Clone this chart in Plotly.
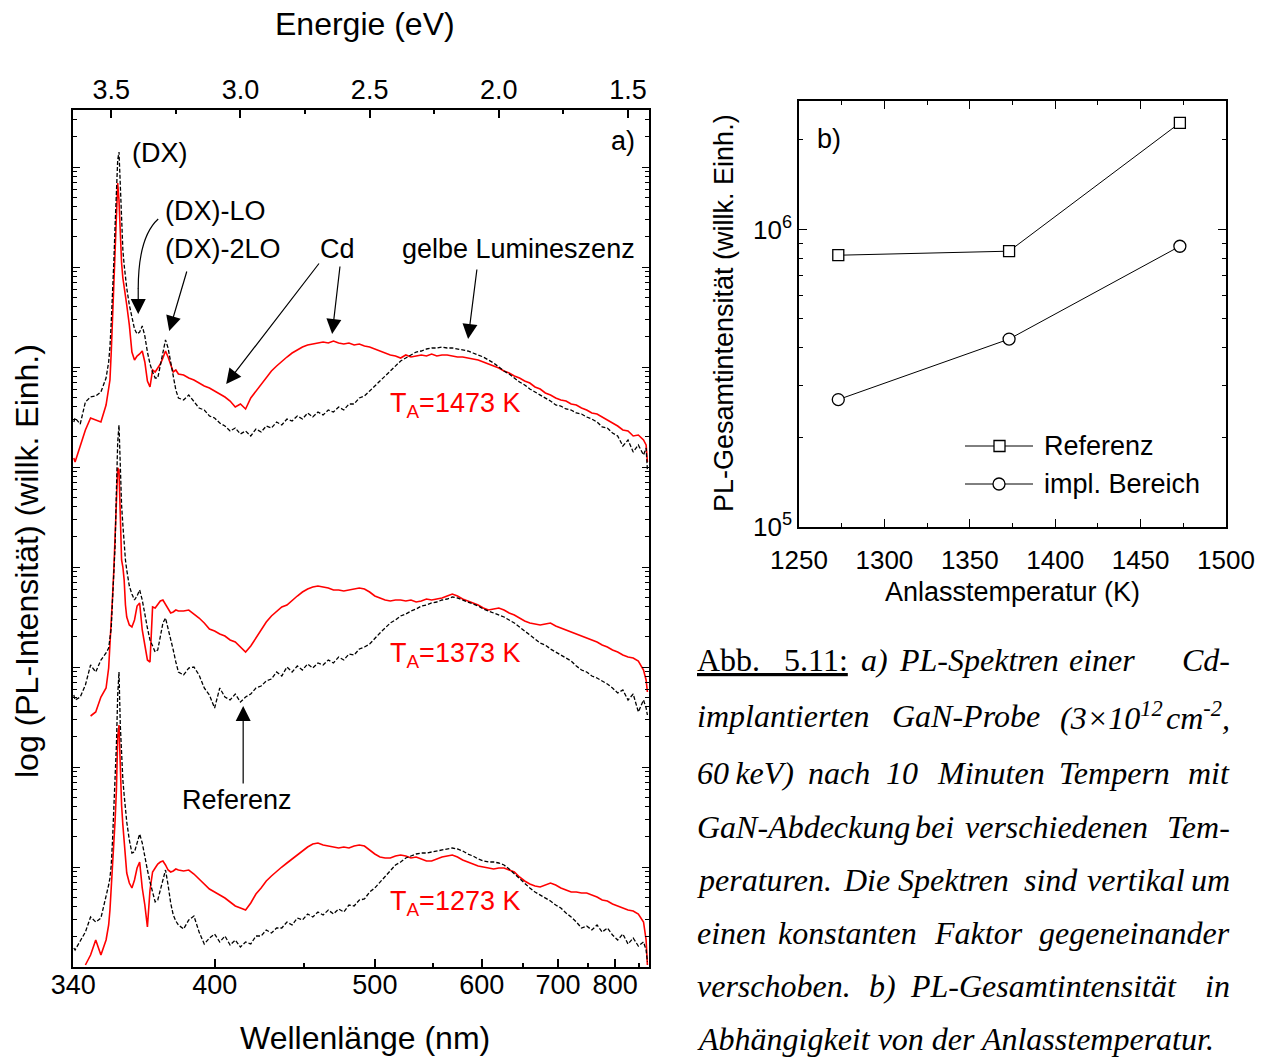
import plotly.graph_objects as go
import math

W, H = 1267, 1059
def fx(p): return p / W
def fy(p): return 1 - p / H

# ---------------- data: panel a) PL spectra (log10 intensity, arb. offset) ----------------
energy_eV = [3.645, 3.64, 3.62, 3.60, 3.58, 3.56, 3.54, 3.52,
             3.51, 3.505, 3.50, 3.495, 3.49, 3.485, 3.48, 3.475, 3.47, 3.465, 3.46, 3.455, 3.45, 3.445, 3.44,
             3.43, 3.42, 3.41, 3.40, 3.39, 3.38, 3.37, 3.36, 3.35, 3.34, 3.33, 3.32, 3.31, 3.30, 3.29, 3.28, 3.27, 3.26, 3.25,
             3.24, 3.22, 3.20, 3.18, 3.16, 3.14, 3.12, 3.10, 3.08, 3.06,
             3.04, 3.02, 3.00, 2.98, 2.96, 2.94, 2.92, 2.90, 2.88, 2.86,
             2.84, 2.82, 2.80, 2.78, 2.76, 2.74, 2.72, 2.70, 2.68, 2.66,
             2.64, 2.62, 2.60, 2.58, 2.56, 2.54, 2.52, 2.50, 2.48, 2.46,
             2.44, 2.42, 2.40, 2.38, 2.36, 2.34, 2.32, 2.30, 2.28, 2.26,
             2.24, 2.22, 2.20, 2.18, 2.16, 2.14, 2.12, 2.10, 2.08, 2.06,
             2.04, 2.02, 2.00, 1.98, 1.96, 1.94, 1.92, 1.90, 1.88, 1.86,
             1.84, 1.82, 1.80, 1.78, 1.76, 1.74, 1.72, 1.70, 1.68, 1.66,
             1.64, 1.62, 1.60, 1.58, 1.56, 1.54, 1.52, 1.50, 1.48, 1.46, 1.44,
             1.43, 1.425]

impl_1473 = [5.09, 5.05, 5.21, 5.37, 5.49, 5.47, 5.45, 5.62,
             5.77, 5.87, 6.15, 6.49, 6.87, 7.25, 7.67, 7.84, 7.67, 7.32, 7.04, 6.89, 6.82, 6.71, 6.62,
             6.42, 6.15, 6.07, 6.11, 6.13, 6.16, 6.05, 5.86, 5.80, 5.97, 5.95, 5.99, 6.03, 6.09, 6.16, 6.10, 6.02, 5.95, 5.97,
             5.93, 5.92, 5.89, 5.87, 5.84, 5.81, 5.79, 5.76, 5.73, 5.70,
             5.66, 5.60, 5.63, 5.58, 5.69, 5.76, 5.82, 5.89, 5.96, 6.01,
             6.06, 6.10, 6.14, 6.17, 6.20, 6.22, 6.23, 6.24, 6.25, 6.24,
             6.26, 6.24, 6.23, 6.24, 6.22, 6.23, 6.21, 6.20, 6.18, 6.16,
             6.14, 6.12, 6.11, 6.09, 6.12, 6.10, 6.11, 6.12, 6.11, 6.13,
             6.11, 6.12, 6.12, 6.11, 6.10, 6.10, 6.09, 6.08, 6.07, 6.05,
             6.03, 6.01, 5.99, 5.96, 5.94, 5.91, 5.89, 5.86, 5.84, 5.80,
             5.78, 5.74, 5.72, 5.69, 5.67, 5.66, 5.63, 5.62, 5.59, 5.57,
             5.54, 5.53, 5.50, 5.47, 5.44, 5.41, 5.37, 5.36, 5.31, 5.32, 5.27,
             5.22, 5.05]
ref_1473 = [5.45, 5.49, 5.43, 5.65, 5.70, 5.71, 5.75, 5.89,
            6.05, 6.20, 6.45, 6.72, 7.05, 7.42, 7.84, 8.07, 8.15, 7.82, 7.45, 7.17, 7.02, 6.90, 6.79,
            6.62, 6.49, 6.38, 6.33, 6.35, 6.41, 6.31, 6.15, 6.03, 5.95, 5.89, 5.89, 6.01, 6.15, 6.27, 6.19, 6.05, 5.90, 5.77,
            5.69, 5.67, 5.72, 5.65, 5.59, 5.57, 5.51, 5.49, 5.44, 5.41,
            5.36, 5.39, 5.33, 5.36, 5.31, 5.38, 5.35, 5.41, 5.39, 5.45,
            5.42, 5.48, 5.46, 5.51, 5.48, 5.54, 5.50, 5.55, 5.52, 5.57,
            5.55, 5.60, 5.57, 5.63, 5.63, 5.69, 5.71, 5.76, 5.81, 5.86,
            5.91, 5.97, 6.01, 6.06, 6.09, 6.12, 6.15, 6.16, 6.18, 6.19,
            6.19, 6.20, 6.19, 6.19, 6.18, 6.17, 6.16, 6.14, 6.12, 6.10,
            6.07, 6.04, 6.00, 5.96, 5.93, 5.89, 5.85, 5.82, 5.78, 5.75,
            5.72, 5.69, 5.66, 5.62, 5.61, 5.58, 5.57, 5.54, 5.53, 5.50,
            5.48, 5.45, 5.40, 5.39, 5.34, 5.31, 5.21, 5.27, 5.15, 5.22, 5.12,
            5.19, 4.97]

impl_1373 = [None, None, None, None, 2.51, 2.55, 2.70, 2.79,
             2.99, 3.19, 3.42, 3.70, 3.97, 4.32, 4.67, 4.99, 4.97, 4.47, 4.07, 4.00, 3.87, 3.62, 3.50,
             3.42, 3.40, 3.47, 3.61, 3.64, 3.37, 3.22, 3.07, 3.05, 3.60, 3.59, 3.62, 3.66, 3.67, 3.63, 3.58, 3.54, 3.55, 3.57,
             3.56, 3.56, 3.57, 3.53, 3.49, 3.44, 3.38, 3.36, 3.33, 3.31,
             3.27, 3.25, 3.20, 3.15, 3.21, 3.29, 3.37, 3.45, 3.51, 3.56,
             3.60, 3.62, 3.67, 3.71, 3.75, 3.78, 3.80, 3.81, 3.80, 3.79,
             3.77, 3.77, 3.76, 3.77, 3.78, 3.79, 3.78, 3.75, 3.71, 3.69,
             3.67, 3.66, 3.67, 3.67, 3.66, 3.67, 3.65, 3.66, 3.68, 3.67,
             3.68, 3.69, 3.71, 3.73, 3.71, 3.68, 3.66, 3.64, 3.62, 3.59,
             3.57, 3.58, 3.59, 3.57, 3.54, 3.52, 3.49, 3.46, 3.44, 3.43,
             3.42, 3.43, 3.44, 3.41, 3.39, 3.37, 3.35, 3.33, 3.31, 3.29,
             3.27, 3.25, 3.22, 3.20, 3.17, 3.15, 3.12, 3.10, 3.09, 3.06, 2.97,
             2.87, 2.75]
ref_1373 = [2.72, 2.67, 2.70, 2.82, 3.02, 2.95, 3.07, 3.14,
            3.19, 3.27, 3.39, 3.67, 3.94, 4.22, 4.77, 5.25, 5.42, 4.97, 4.62, 4.42, 4.22, 4.07, 3.97,
            3.81, 3.73, 3.67, 3.71, 3.77, 3.67, 3.52, 3.39, 3.27, 3.20, 3.15, 3.17, 3.29, 3.44, 3.49, 3.39, 3.27, 3.17, 3.05,
            2.95, 2.92, 2.99, 3.00, 2.92, 2.79, 2.72, 2.59, 2.79, 2.70,
            2.67, 2.73, 2.65, 2.70, 2.73, 2.79, 2.81, 2.86, 2.88, 2.95,
            2.91, 3.00, 2.95, 3.01, 2.97, 3.03, 2.99, 3.04, 3.02, 3.07,
            3.04, 3.10, 3.07, 3.13, 3.12, 3.18, 3.20, 3.23, 3.29, 3.34,
            3.39, 3.44, 3.47, 3.51, 3.53, 3.56, 3.58, 3.61, 3.62, 3.64,
            3.65, 3.67, 3.68, 3.70, 3.69, 3.67, 3.65, 3.63, 3.61, 3.58,
            3.56, 3.54, 3.52, 3.50, 3.47, 3.44, 3.40, 3.36, 3.32, 3.28,
            3.24, 3.22, 3.18, 3.15, 3.12, 3.09, 3.06, 3.01, 2.97, 2.95,
            2.91, 2.89, 2.86, 2.83, 2.79, 2.74, 2.77, 2.67, 2.73, 2.55, 2.67,
            2.59, 2.52]

impl_1273 = [None, None, None, 0.02, 0.12, 0.27, 0.12, 0.27,
             0.42, 0.57, 0.77, 0.99, 1.22, 1.47, 1.77, 2.30, 2.42, 1.87, 1.62, 1.42, 1.27, 1.09, 0.94,
             0.84, 0.79, 0.87, 0.99, 1.05, 0.79, 0.62, 0.40, 0.77, 0.95, 0.99, 1.03, 1.05, 1.06, 1.02, 0.97, 0.95, 0.96, 0.98,
             0.97, 0.96, 0.97, 0.93, 0.88, 0.83, 0.78, 0.75, 0.72, 0.69,
             0.65, 0.61, 0.59, 0.57, 0.64, 0.73, 0.79, 0.86, 0.91, 0.96,
             1.00, 1.04, 1.08, 1.12, 1.16, 1.20, 1.23, 1.24, 1.22, 1.21,
             1.20, 1.19, 1.20, 1.19, 1.21, 1.22, 1.21, 1.17, 1.13, 1.10,
             1.09, 1.09, 1.11, 1.12, 1.11, 1.09, 1.10, 1.08, 1.06, 1.06,
             1.08, 1.10, 1.11, 1.12, 1.10, 1.07, 1.05, 1.03, 1.01, 1.00,
             0.99, 0.98, 0.99, 0.99, 0.97, 0.95, 0.90, 0.86, 0.83, 0.81,
             0.80, 0.82, 0.84, 0.82, 0.79, 0.77, 0.75, 0.75, 0.74, 0.74,
             0.72, 0.70, 0.67, 0.66, 0.63, 0.61, 0.59, 0.57, 0.56, 0.53, 0.45,
             0.27, 0.02]
ref_1273 = [0.19, 0.17, 0.26, 0.35, 0.50, 0.45, 0.49, 0.69,
            0.82, 0.89, 1.02, 1.27, 1.55, 1.87, 2.22, 2.72, 2.95, 2.42, 2.07, 1.87, 1.72, 1.57, 1.45,
            1.27, 1.14, 1.15, 1.25, 1.33, 1.24, 1.09, 0.97, 0.85, 0.74, 0.65, 0.67, 0.77, 0.89, 0.97, 0.82, 0.64, 0.52, 0.46,
            0.42, 0.38, 0.47, 0.51, 0.35, 0.23, 0.29, 0.33, 0.25, 0.31,
            0.22, 0.27, 0.20, 0.25, 0.23, 0.31, 0.31, 0.37, 0.34, 0.39,
            0.39, 0.45, 0.42, 0.49, 0.47, 0.53, 0.50, 0.55, 0.52, 0.57,
            0.53, 0.58, 0.55, 0.62, 0.61, 0.67, 0.68, 0.75, 0.79, 0.85,
            0.91, 0.97, 1.02, 1.05, 1.09, 1.11, 1.13, 1.14, 1.14, 1.15,
            1.16, 1.17, 1.18, 1.19, 1.18, 1.16, 1.13, 1.11, 1.08, 1.06,
            1.05, 1.05, 1.04, 1.02, 0.98, 0.93, 0.88, 0.84, 0.79, 0.75,
            0.72, 0.69, 0.66, 0.62, 0.59, 0.54, 0.50, 0.45, 0.39, 0.41,
            0.37, 0.42, 0.35, 0.39, 0.32, 0.27, 0.33, 0.23, 0.29, 0.21, 0.25,
            0.17, 0.05]

for s in (impl_1473, ref_1473, impl_1373, ref_1373, impl_1273, ref_1273):
    assert len(s) == len(energy_eV), len(s)

wl_ticks = [340, 400, 500, 600, 700, 800]
wl_minor = [450, 550, 650, 750, 850]
ev_ticks = [3.5, 3.0, 2.5, 2.0, 1.5]
ev_ticktext = ["3.5", "3.0", "2.5", "2.0", "1.5"]
ev_minor = [3.25, 2.75, 2.25, 1.75]
HC = 1239.84  # eV*nm

# ---------------- data: panel b) total PL intensity ----------------
temps_K = [1273, 1373, 1473]
total_ref = [8.19e5, 8.45e5, 2.28e6]
total_impl = [2.68e5, 4.28e5, 8.78e5]
int_ticks = [1e5, 1e6]
int_ticktext = ["10<sup>5</sup>", "10<sup>6</sup>"]

SANS = "Liberation Sans, Arial, sans-serif"
SERIF = "Liberation Serif, Times New Roman, serif"

fig = go.Figure()
for imp, ref in ((impl_1473, ref_1473), (impl_1373, ref_1373), (impl_1273, ref_1273)):
    fig.add_trace(go.Scatter(x=energy_eV, y=imp, mode="lines", xaxis="x", yaxis="y",
                             line=dict(color="#ff0000", width=1.6), showlegend=False,
                             connectgaps=False, hoverinfo="skip"))
    fig.add_trace(go.Scatter(x=energy_eV, y=ref, mode="lines", xaxis="x", yaxis="y",
                             line=dict(color="black", width=1.3, dash="4px,2px"), showlegend=False,
                             hoverinfo="skip"))
# invisible trace to anchor the top energy axis
fig.add_trace(go.Scatter(x=[energy_eV[0]], y=[None], xaxis="x2", yaxis="y", mode="lines",
                         showlegend=False, hoverinfo="skip"))

fig.add_trace(go.Scatter(x=temps_K, y=total_ref, mode="lines+markers", xaxis="x3", yaxis="y3",
                         line=dict(color="black", width=1),
                         marker=dict(symbol="square", size=11, color="white",
                                     line=dict(color="black", width=1.3)),
                         name="Referenz", showlegend=False))
fig.add_trace(go.Scatter(x=temps_K, y=total_impl, mode="lines+markers", xaxis="x3", yaxis="y3",
                         line=dict(color="black", width=1),
                         marker=dict(symbol="circle", size=12, color="white",
                                     line=dict(color="black", width=1.3)),
                         name="impl. Bereich", showlegend=False))

tickfont = dict(family=SANS, size=27, color="black")
y_major = [float(n) for n in range(0, 9)]
y_minor = []
for n in range(0, 9):
    for k in range(2, 10):
        v = n + math.log10(k)
        if v < 8.57:
            y_minor.append(v)

x_range = [3.648, 1.4188]
fig.update_layout(
    width=W, height=H, margin=dict(l=0, r=0, t=0, b=0, autoexpand=False),
    paper_bgcolor="white", plot_bgcolor="white", showlegend=False,
    xaxis=dict(domain=[fx(73), fx(649)], range=x_range, anchor="y", automargin=False,
               tickmode="array", tickvals=[HC / w for w in wl_ticks], ticktext=[str(w) for w in wl_ticks],
               ticks="inside", ticklen=8, tickwidth=1.5, tickcolor="black", ticklabelstandoff=-7,
               showline=True, linewidth=2, linecolor="black", mirror=False,
               showgrid=False, zeroline=False, tickfont=tickfont,
               minor=dict(tickmode="array", tickvals=[HC / w for w in wl_minor], ticks="inside",
                          ticklen=4, tickwidth=1.5, tickcolor="black", showgrid=False)),
    xaxis2=dict(overlaying="x", side="top", anchor="y", range=x_range, automargin=False,
                tickmode="array", tickvals=ev_ticks, ticktext=ev_ticktext,
                ticks="inside", ticklen=8, tickwidth=1.5, tickcolor="black", ticklabelstandoff=-2,
                showline=True, linewidth=2, linecolor="black",
                showgrid=False, zeroline=False, tickfont=tickfont,
                minor=dict(tickmode="array", tickvals=ev_minor, ticks="inside",
                           ticklen=4, tickwidth=1.5, tickcolor="black", showgrid=False)),
    yaxis=dict(domain=[fy(967), fy(110)], range=[0, 8.57], anchor="x", automargin=False,
               tickmode="array", tickvals=y_major, showticklabels=False,
               ticks="inside", ticklen=7, tickwidth=1.2, tickcolor="black",
               showline=True, linewidth=2, linecolor="black", mirror="ticks",
               showgrid=False, zeroline=False,
               minor=dict(tickmode="array", tickvals=y_minor, ticks="inside",
                          ticklen=4, tickwidth=1, tickcolor="black", showgrid=False)),
    xaxis3=dict(domain=[fx(799), fx(1226)], range=[1250, 1500], anchor="y3", automargin=False,
                tickmode="linear", tick0=1250, dtick=50,
                ticks="inside", ticklen=8, tickwidth=1.2, tickcolor="black",
                showline=True, linewidth=1.5, linecolor="black", mirror="ticks",
                showgrid=False, zeroline=False, ticklabelstandoff=9,
                tickfont=dict(family=SANS, size=26, color="black"),
                minor=dict(dtick=25, ticks="inside", ticklen=4, tickwidth=1.2, tickcolor="black",
                           showgrid=False)),
    yaxis3=dict(domain=[fy(527), fy(101)], type="log", range=[5, 6.4315], anchor="x3", automargin=False,
                tickmode="array", tickvals=int_ticks, ticktext=int_ticktext,
                ticks="inside", ticklen=8, tickwidth=1.2, tickcolor="black",
                showline=True, linewidth=1.5, linecolor="black", mirror="ticks",
                showgrid=False, zeroline=False,
                tickfont=dict(family=SANS, size=26, color="black"),
                minor=dict(tickmode="array",
                           tickvals=[2e5, 3e5, 4e5, 5e5, 6e5, 7e5, 8e5, 9e5, 2e6],
                           ticks="inside", ticklen=4, tickwidth=1.2, tickcolor="black",
                           showgrid=False)),
)

ann = []
def txt(text, x, y, size=27, color="black", xanchor="center", yanchor="middle",
        family=SANS, angle=0):
    ann.append(dict(text=text, x=fx(x), y=fy(y), xref="paper", yref="paper",
                    xanchor=xanchor, yanchor=yanchor, showarrow=False, textangle=angle,
                    font=dict(family=family, size=size, color=color)))

# titles
txt("Energie (eV)", 365, 24, size=32)
txt("Wellenlänge (nm)", 365, 1038, size=32)
txt("log (PL-Intensität) (willk. Einh.)", 27, 561, size=32, angle=-90)
txt("Anlasstemperatur (K)", 1012, 592, size=27)
txt("PL-Gesamtintensität (willk. Einh.)", 724, 313, size=27, angle=-90)
txt("b)", 829, 139)

# panel a) labels (data coordinates)
def dtxt(text, x, y, xanchor="center", color="black"):
    ann.append(dict(text=text, x=x, y=y, xref="x", yref="y", xanchor=xanchor, yanchor="middle",
                    showarrow=False, font=dict(family=SANS, size=27, color=color)))
dtxt("(DX)", 3.4265, 8.14, xanchor="left")
dtxt("(DX)-LO", 3.2988, 7.56, xanchor="left")
dtxt("(DX)-2LO", 3.2988, 7.18, xanchor="left")
dtxt("Cd", 2.6257, 7.18)
dtxt("gelbe Lumineszenz", 1.9255, 7.18)
dtxt("a)", 1.5193, 8.26)
dtxt("Referenz", 3.0126, 1.67)
dtxt("T<sub>A</sub>=1473 K", 2.4284, 5.62, xanchor="left", color="#ff0000")
dtxt("T<sub>A</sub>=1373 K", 2.4284, 3.12, xanchor="left", color="#ff0000")
dtxt("T<sub>A</sub>=1273 K", 2.4284, 0.64, xanchor="left", color="#ff0000")

def arrow(x_tail, y_tail, x_head, y_head):
    ann.append(dict(text="", x=x_head, y=y_head, ax=x_tail, ay=y_tail, xref="x", yref="y",
                    axref="x", ayref="y", showarrow=True, arrowhead=2, arrowsize=2.5,
                    arrowwidth=1.2, arrowcolor="black"))
arrow(3.3956, 6.80, 3.3956, 6.53)      # (DX)-LO (head of curved arrow)
arrow(3.206, 6.97, 3.2756, 6.36)       # (DX)-2LO
arrow(2.6915, 7.05, 3.0551, 5.83)      # Cd (left)
arrow(2.6141, 7.02, 2.6451, 6.33)      # Cd (right)
arrow(2.0841, 6.99, 2.1190, 6.28)      # gelbe Lumineszenz
arrow(2.9894, 1.82, 2.9894, 2.61)      # Referenz

shapes = [dict(type="path", xref="x", yref="y",
               path="M 3.3182,7.48 Q 3.3956,7.30 3.3956,6.78",
               line=dict(color="black", width=1.2))]

# manual legend of panel b)
def pshape(**kw):
    kw.setdefault("xref", "paper"); kw.setdefault("yref", "paper")
    shapes.append(kw)
pshape(type="line", x0=fx(965), x1=fx(1033), y0=fy(446), y1=fy(446), line=dict(color="black", width=1))
pshape(type="rect", x0=fx(994), x1=fx(1005), y0=fy(451.5), y1=fy(440.5), fillcolor="white",
       line=dict(color="black", width=1.3))
pshape(type="line", x0=fx(965), x1=fx(1033), y0=fy(484), y1=fy(484), line=dict(color="black", width=1))
pshape(type="circle", x0=fx(993), x1=fx(1005), y0=fy(490), y1=fy(478), fillcolor="white",
       line=dict(color="black", width=1.3))
txt("Referenz", 1042, 446, xanchor="left")
txt("impl. Bereich", 1042, 484, xanchor="left")

# caption (justified by placing words)
cap_y = [660, 716, 773, 827, 880, 933, 986, 1039]
NB = "\u00a0"
caption = [
    [("<u>Abb." + NB * 3 + "5.11:</u>", 695, "left", False), ("a)", 859, "left", True),
     ("PL-Spektren", 897, "left", True), ("einer", 1067, "left", True), ("Cd-", 1232, "right", True)],
    [("implantierten", 695, "left", True), ("GaN-Probe", 890, "left", True),
     ("(3×10<sup>12</sup>", 1058, "left", True), ("cm<sup>-2</sup>,", 1232, "right", True)],
    [("60" + "\u2009" + "keV)", 695, "left", True), ("nach", 806, "left", True), ("10", 884, "left", True),
     ("Minuten", 935, "left", True), ("Tempern", 1057, "left", True), ("mit", 1232, "right", True)],
    [("GaN-Abdeckung", 695, "left", True), ("bei", 913, "left", True),
     ("verschiedenen", 963, "left", True), ("Tem-", 1232, "right", True)],
    [("peraturen.", 695, "left", True), ("Die", 841, "left", True), ("Spektren", 896, "left", True),
     ("sind", 1022, "left", True), ("vertikal", 1085, "left", True), ("um", 1232, "right", True)],
    [("einen", 695, "left", True), ("konstanten", 776, "left", True), ("Faktor", 932, "left", True),
     ("gegeneinander", 1232, "right", True)],
    [("verschoben.", 695, "left", True), ("b)", 867, "left", True),
     ("PL-Gesamtintensität", 908, "left", True), ("in", 1232, "right", True)],
    [("Abhängigkeit von der Anlasstemperatur.", 695, "left", True)],
]
for line, yc in zip(caption, cap_y):
    for word, x, anc, ital in line:
        t = "<i>" + word + "</i>" if ital else word
        txt(t, x, yc, size=32, xanchor=anc, family=SERIF)

fig.update_layout(annotations=ann, shapes=shapes)
fig.write_html("out.html")
